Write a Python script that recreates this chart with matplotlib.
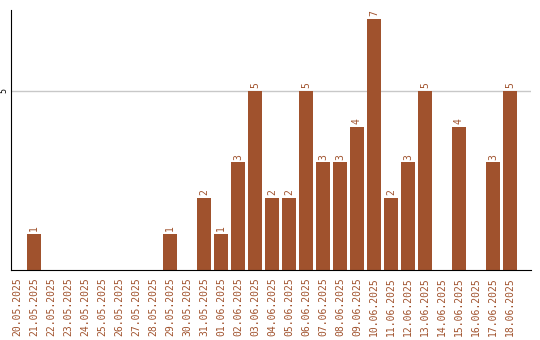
import matplotlib
matplotlib.use("Agg")
import matplotlib.pyplot as plt
import numpy as np

dates = ["20.05.2025", "21.05.2025", "22.05.2025", "23.05.2025", "24.05.2025",
         "25.05.2025", "26.05.2025", "27.05.2025", "28.05.2025", "29.05.2025",
         "30.05.2025", "31.05.2025", "01.06.2025", "02.06.2025", "03.06.2025",
         "04.06.2025", "05.06.2025", "06.06.2025", "07.06.2025", "08.06.2025",
         "09.06.2025", "10.06.2025", "11.06.2025", "12.06.2025", "13.06.2025",
         "14.06.2025", "15.06.2025", "16.06.2025", "17.06.2025", "18.06.2025"]
counts = [0, 1, 0, 0, 0, 0, 0, 0, 0, 1,
          0, 2, 1, 3, 5, 2, 2, 5, 3, 3,
          4, 7, 2, 3, 5, 0, 4, 0, 3, 5]

color = "#A0522D"

fig = plt.figure(figsize=(5.4, 3.4), dpi=100)
ax = fig.add_axes([0.0198, 0.206, 0.963, 0.765])

x = np.arange(len(dates))
bars = ax.bar(x, counts, width=0.82, color=color, zorder=2)

for xi, v in zip(x, counts):
    if v > 0:
        ax.text(xi, v + 0.08, str(v), rotation=90, ha="center", va="bottom",
                fontsize=7, color=color, family="DejaVu Sans Mono")

ax.set_xlim(-0.37, 30.22)
ax.set_ylim(0, 7.26)
ax.set_yticks([5])
ax.set_yticklabels(["5"], rotation=90, va="center", fontsize=6,
                   family="DejaVu Sans Mono")
ax.yaxis.grid(True, color="#c8c8c8", linewidth=1, zorder=0)
ax.tick_params(axis="y", length=0, pad=2)

ax.set_xticks(x)
ax.set_xticklabels(dates, rotation=90, fontsize=7, color=color,
                   family="DejaVu Sans Mono")
ax.tick_params(axis="x", length=0, pad=5)

for side in ["top", "right"]:
    ax.spines[side].set_visible(False)
ax.spines["left"].set_color("black")
ax.spines["bottom"].set_color("black")

fig.savefig("out.png", dpi=100)
